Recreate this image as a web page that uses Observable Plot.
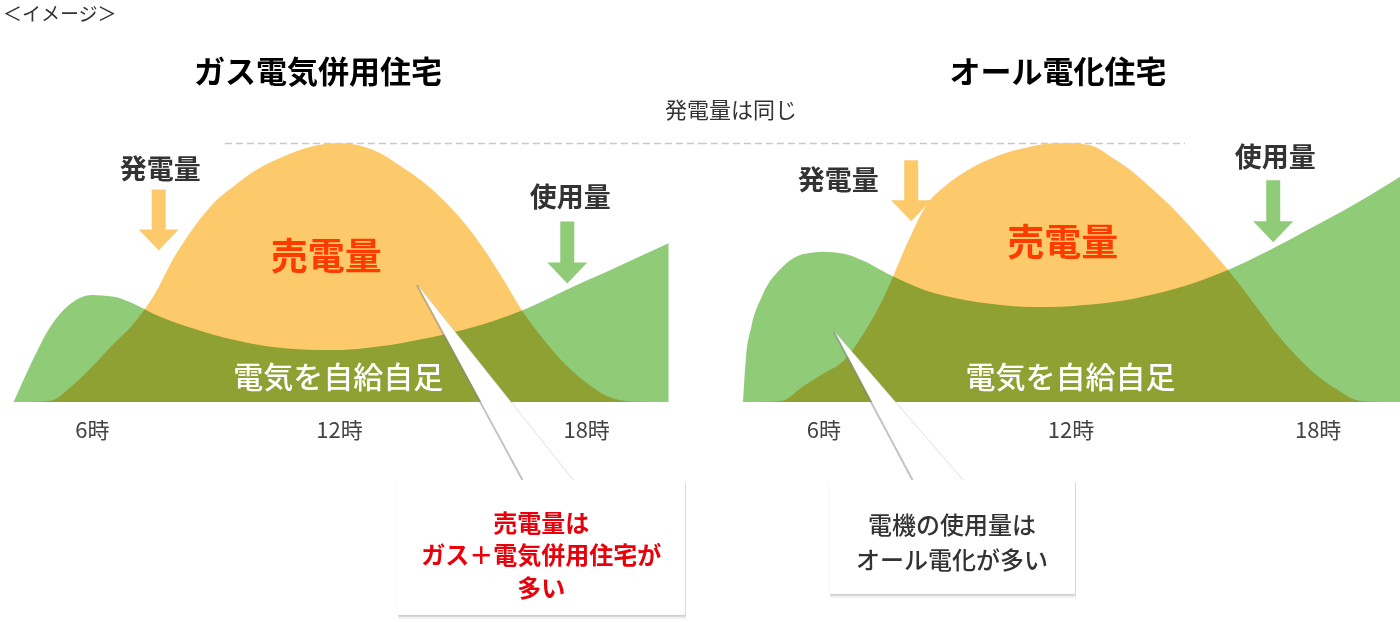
<!DOCTYPE html>
<html><head><meta charset="utf-8">
<script src="https://cdn.jsdelivr.net/npm/d3@7"></script>
<script src="https://cdn.jsdelivr.net/npm/@observablehq/plot@0.6"></script>
<style>
body{margin:0;background:#fff;font-family:'Noto Sans CJK JP','Noto Sans',sans-serif;}
#page{position:relative;width:1400px;height:622px;overflow:hidden;background:#fff;}
.lbl{position:absolute;white-space:nowrap;transform:translate(-50%,-50%);line-height:1;}
.panel{position:absolute;top:0;}
</style></head><body>
<div id="page">
  <div style="position:absolute;left:3px;top:3px;font-size:19px;color:#333;line-height:1.1;white-space:nowrap;">＜イメージ＞</div>
  <div class="lbl" style="left:318px;top:69px;font-size:31px;font-weight:bold;color:#000;">ガス電気併用住宅</div>
  <div class="lbl" style="left:1058px;top:69px;font-size:31px;font-weight:bold;color:#000;">オール電化住宅</div>
  <div class="lbl" style="left:731px;top:108px;font-size:22px;color:#333;">発電量は同じ</div>
  <div id="left" class="panel" style="left:0"></div>
  <div id="right" class="panel" style="left:700px"></div>
</div>
<script>
// ---- data (hour of day, relative amount 0-100) ----
const genHours = [4.5,5,5.5,6,6.5,7,7.5,8,8.5,9,9.5,10,10.5,11,11.5,12,12.5,13,13.5,14,14.5,15,15.5,16,16.5,17,17.5,18,18.5,19,19.5];
const gasGen   = [0,0.5,6,13.5,22,30,41,56,68,77.5,84,89.7,93.7,97,99.2,100,99,96,91,85.5,78.5,70,59.5,47,34,23.5,14.5,7.5,2.3,0.3,0];
const elecGen  = [0,0.5,6,11,16,27,41.5,60,76,84,89.5,93.5,96.5,98.5,99.8,100,99,94.5,89,82,74.5,66,57,47.5,37,26.5,17.5,10,4.5,0.5,0];

const gasUseHours = [4.1,4.5,5,5.5,6,6.5,7,7.5,8,8.5,9,9.5,10,10.5,11,11.5,12,12.5,13,13.5,14,14.5,15,15.5,16,16.5,17,17.5,18,18.5,19,19.5,20];
const gasUse      = [0,14,29.2,38.1,41.3,40.7,38,34,30.8,28.2,25.8,23.8,22.2,21,20.4,20.1,20.1,20.6,21.5,22.7,24.2,25.9,27.8,30,32.7,35.7,39.3,43.1,46.8,50.3,54,57.6,61.3];

const elecUseHours = [4.05,4.12,4.25,4.5,5,5.5,6,6.5,7,7.5,8,8.5,9,9.5,10,10.5,11,11.5,12,12.5,13,13.5,14,14.5,15,15.5,16,16.5,17,17.5,18,18.5,19,19.5,20];
const elecUse      = [0,17,29,40.5,52,57,58,57.2,54.3,50,46.2,43,40.8,39.2,38,37.2,36.7,36.7,37,37.6,38.5,39.8,41.5,43.5,45.9,48.9,52.2,56,60,64.2,68.5,72.8,77.3,82,87];

const tickHours  = [6,12,18];
const tickLabels = ["6時","12時","18時"];

// ---- styling ----
const FONT = "'Noto Sans CJK JP','Noto Sans',sans-serif";
const ORANGE = "#fdca6b";
const GREEN = "#90cb78";

const blockArrow = {
  draw(ctx, l) {
    const hl = 21, sw = 7, hw = 20;
    ctx.moveTo(-sw, 0);
    ctx.lineTo(sw, 0);
    ctx.lineTo(sw, -(l - hl));
    ctx.lineTo(hw, -(l - hl));
    ctx.lineTo(0, -l);
    ctx.lineTo(-hw, -(l - hl));
    ctx.lineTo(-sw, -(l - hl));
    ctx.closePath();
  }
};

function panel(cfg) {
  const genData = genHours.map((h, i) => ({h, v: cfg.gen[i]}));
  const useData = cfg.useHours.map((h, i) => ({h, v: cfg.use[i]}));
  const [tip, bl, br] = cfg.wedge;
  const wedgePoly = [
    {x1: tip.h, y1: tip.v, x2: tip.h, y2: tip.v},
    {x1: bl.h, y1: bl.v, x2: br.h, y2: br.v}
  ];
  return Plot.plot({
    width: 700, height: 622,
    marginLeft: cfg.ml, marginRight: cfg.mr, marginTop: 143, marginBottom: 220,
    x: {domain: [4, 20]},
    y: {domain: [0, 100], axis: null},
    style: {fontFamily: FONT, background: "transparent", overflow: "visible"},
    marks: [
      Plot.ruleY([100], {x1: cfg.dash[0], x2: cfg.dash[1], stroke: "#c8c8c8", strokeWidth: 1.5, strokeDasharray: "7,4"}),
      Plot.areaY(genData, {x: "h", y: "v", fill: ORANGE, curve: "monotone-x"}),
      Plot.areaY(useData, {x: "h", y: "v", fill: GREEN, curve: "monotone-x", mixBlendMode: "multiply"}),
      Plot.axisX(tickHours, {tickSize: 0, tickPadding: 20, tickFormat: d => tickLabels[tickHours.indexOf(d)], fontSize: 22, color: "#444", label: null}),
      Plot.vector([cfg.genArrow], {x: "h", y: "v", length: 61, rotate: 180, anchor: "end", shape: blockArrow, fill: ORANGE, stroke: "none"}),
      Plot.vector([cfg.useArrow], {x: "h", y: "v", length: 62, rotate: 180, anchor: "end", shape: blockArrow, fill: GREEN, stroke: "none"}),
      Plot.text(cfg.labels, {x: "h", y: "v", text: "t", fontSize: 27, fontWeight: "bold", fill: "#333"}),
      Plot.text([cfg.sell], {x: "h", y: "v", text: "t", fontSize: 37, fontWeight: "bold", fill: "#ff3c00"}),
      Plot.text([cfg.self], {x: "h", y: "v", text: "t", fontSize: 30, fontWeight: 500, fill: "#fff"}),
      // callout pointer (soft shadow on its left edge, then white wedge)
      Plot.line([tip, bl], {x: "h", y: "v", stroke: "#888", strokeOpacity: 0.5, strokeWidth: 2.5, dx: -1}),
      Plot.area(wedgePoly, {x1: "x1", y1: "y1", x2: "x2", y2: "y2", fill: "#fff"}),
      Plot.line([tip, br], {x: "h", y: "v", stroke: "#ccc", strokeOpacity: 0.6, strokeWidth: 1}),
      // callout box with shadow
      Plot.rect([cfg.box], {x1: "h1", x2: "h2", y1: "v1", y2: "v2", fill: "#000", fillOpacity: 0.06, dx: 1, dy: 4}),
      Plot.rect([cfg.box], {x1: "h1", x2: "h2", y1: "v1", y2: "v2", fill: "#000", fillOpacity: 0.1, dx: 1, dy: 2}),
      Plot.rect([cfg.box], {x1: "h1", x2: "h2", y1: "v1", y2: "v2", fill: "#000", fillOpacity: 0.06, dx: -0.5, dy: 0.5}),
      Plot.rect([cfg.box], {x1: "h1", x2: "h2", y1: "v1", y2: "v2", fill: "#fff"}),
      Plot.text([cfg.note], {x: "h", y: "v", text: "t", fontSize: 24, lineHeight: cfg.note.lh, fontWeight: cfg.note.w, fill: cfg.note.c})
    ]
  });
}

document.getElementById("left").appendChild(panel({
  gen: gasGen, use: gasUse, useHours: gasUseHours,
  ml: 9.5, mr: 31.5,
  dash: [9.23, 20.76],
  genArrow: {h: 7.61, v: 58.7},
  useArrow: {h: 17.53, v: 45.9},
  labels: [{h: 7.65, v: 89.6, t: "発電量"}, {h: 17.6, v: 78.8, t: "使用量"}],
  sell: {h: 11.68, v: 55.8, t: "売電量"},
  self: {h: 11.97, v: 9.4, t: "電気を自給自足"},
  wedge: [{h: 13.92, v: 45}, {h: 16.51, v: -31}, {h: 17.73, v: -31}],
  box: {h1: 13.41, h2: 20.40, v1: -30.1, v2: -82.2},
  note: {h: 16.9, v: -58.5, t: "売電量は\nガス＋電気併用住宅が\n多い", lh: 1.36, w: 600, c: "#e8000b"}
}));

document.getElementById("right").appendChild(panel({
  gen: elecGen, use: elecUse, useHours: elecUseHours,
  ml: 41, mr: 0,
  dash: [3.0, 14.78],
  genArrow: {h: 8.12, v: 70.0},
  useArrow: {h: 16.91, v: 61.9},
  labels: [{h: 6.35, v: 85.3, t: "発電量"}, {h: 16.96, v: 94.2, t: "使用量"}],
  sell: {h: 11.8, v: 61.0, t: "売電量"},
  self: {h: 11.99, v: 9.4, t: "電気を自給自足"},
  wedge: [{h: 6.28, v: 27}, {h: 8.22, v: -31}, {h: 9.44, v: -31}],
  box: {h1: 6.14, h2: 12.11, v1: -30.1, v2: -74.1},
  note: {h: 9.11, v: -53.3, t: "電機の使用量は\nオール電化が多い", lh: 1.46, w: 500, c: "#333"}
}));
</script>
</body></html>
